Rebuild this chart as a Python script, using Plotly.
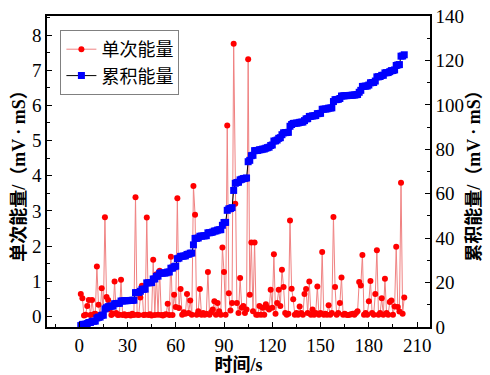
import numpy as np
import plotly.graph_objects as go

# time (s)
time_s = list(range(1, 203))

# single-event energy (mV·mS)
single_energy = [
    0.64, 0.52, 0.03, 0.05, 0.30, 0.47, 0.04, 0.47, 0.06, 0.08,
    1.42, 0.33, 0.05, 0.80, 0.06, 2.82, 0.55, 0.47, 0.20, 0.04,
    0.08, 0.99, 0.10, 0.04, 0.05, 1.04, 0.04, 0.06, 0.03, 0.04,
    0.05, 0.03, 0.08, 0.04, 3.39, 0.05, 0.04, 0.54, 0.87, 0.04,
    0.05, 2.81, 0.04, 0.06, 0.03, 1.61, 0.04, 1.20, 0.05, 1.30,
    0.04, 0.03, 0.05, 0.06, 0.36, 0.04, 1.70, 0.04, 0.62, 0.27,
    3.36, 0.24, 0.78, 0.05, 0.12, 0.08, 0.64, 0.10, 0.45, 0.05,
    3.71, 2.89, 0.05, 0.15, 0.78, 0.05, 0.10, 0.05, 0.08, 1.26,
    0.05, 0.12, 0.20, 0.43, 0.05, 0.38, 0.15, 0.05, 1.96, 1.26,
    0.05, 5.43, 0.66, 0.17, 0.38, 7.75, 3.20, 0.38, 0.10, 1.09,
    0.25, 0.30, 0.10, 0.20, 7.31, 0.62, 2.10, 0.15, 2.10, 0.05,
    0.05, 0.30, 0.05, 0.25, 0.05, 0.35, 0.25, 0.20, 0.76, 0.25,
    1.77, 0.08, 0.38, 0.76, 0.30, 1.33, 0.84, 0.10, 0.05, 0.08,
    2.73, 0.79, 0.49, 0.05, 0.10, 0.05, 0.28, 0.10, 0.05, 0.64,
    0.78, 0.10, 0.99, 0.05, 0.20, 0.05, 0.10, 0.85, 0.05, 0.10,
    1.83, 0.05, 0.08, 0.05, 0.32, 0.05, 0.10, 2.83, 0.84, 0.05,
    0.10, 0.38, 1.11, 0.05, 0.08, 0.05, 0.04, 0.05, 0.06, 0.08,
    0.05, 0.10, 0.15, 0.98, 0.88, 1.75, 0.05, 0.10, 0.05, 0.43,
    1.01, 0.10, 0.05, 0.64, 1.88, 0.05, 0.10, 0.52, 0.05, 1.07,
    0.10, 0.05, 0.41, 0.45, 0.05, 0.28, 1.98, 0.27, 0.14, 3.80,
    0.08, 0.54,
]

# cumulative energy (mV·mS) = running total of the single-event energy
cumulative_energy = np.cumsum(single_energy)

x_ticks = [0, 30, 60, 90, 120, 150, 180, 210]

NUM_FONT = "'Liberation Serif', 'DejaVu Serif', serif"
CJK_FONT = "'Liberation Serif', 'Noto Sans CJK SC', sans-serif"

fig = go.Figure()
fig.add_trace(go.Scatter(
    x=time_s, y=single_energy, name="单次能量", mode="lines+markers",
    line=dict(color="rgb(240,130,130)", width=1),
    marker=dict(color="rgb(255,0,0)", size=6, symbol="circle"),
    yaxis="y",
))
fig.add_trace(go.Scatter(
    x=time_s, y=cumulative_energy, name="累积能量", mode="lines+markers",
    line=dict(color="black", width=1),
    marker=dict(color="rgb(0,0,255)", size=7, symbol="square"),
    yaxis="y2",
))

axis_common = dict(
    showline=True, linecolor="black", linewidth=1.5,
    ticks="inside", ticklen=5, tickwidth=1, tickcolor="black",
    showgrid=False, zeroline=False, automargin=False,
    tickfont=dict(family=NUM_FONT, size=19, color="black"),
)
title_font = dict(family=CJK_FONT, size=18, color="black", weight="bold")

fig.update_layout(
    width=490, height=375,
    margin=dict(l=47, r=60, t=16, b=48),
    paper_bgcolor="white", plot_bgcolor="white",
    font=dict(family=CJK_FONT, size=18, color="black"),
    showlegend=True,
    legend=dict(
        x=0.035, y=0.955, xanchor="left", yanchor="top",
        bgcolor="white", bordercolor="#808080", borderwidth=1,
        font=dict(family=CJK_FONT, size=18, color="black"),
        tracegroupgap=0,
    ),
    xaxis=dict(
        **axis_common,
        range=[-20, 218], tickmode="array", tickvals=x_ticks,
        mirror=True,
        minor=dict(ticks="inside", ticklen=3, dtick=15, tick0=0, tickcolor="black"),
        title=dict(text="时间/s", font=title_font, standoff=2),
    ),
    yaxis=dict(
        **axis_common,
        range=[-0.3, 8.54], tickmode="linear", tick0=0, dtick=1,
        minor=dict(ticks="inside", ticklen=3, dtick=0.5, tick0=0, tickcolor="black"),
        title=dict(text="单次能量/（mV · mS）", font=title_font, standoff=2),
    ),
    yaxis2=dict(
        **axis_common,
        range=[0, 140], tickmode="linear", tick0=0, dtick=20,
        overlaying="y", side="right",
        minor=dict(ticks="inside", ticklen=3, dtick=10, tick0=0, tickcolor="black"),
        title=dict(text="累积能量/（mV · mS）", font=title_font, standoff=2),
    ),
)

fig.write_html(
    "out.html",
    config={"displayModeBar": False},
    post_script="document.body.style.margin='0';document.body.style.padding='0';",
)
